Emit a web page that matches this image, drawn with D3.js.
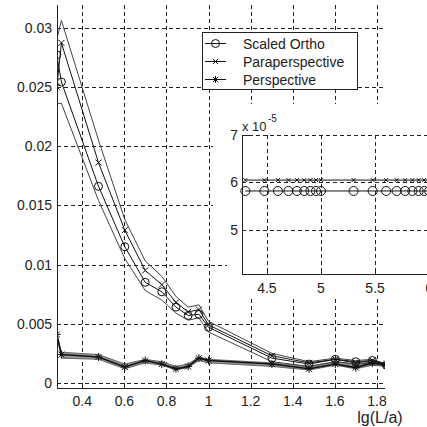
<!DOCTYPE html>
<html>
<head>
<meta charset="utf-8">
<script src="https://cdn.jsdelivr.net/npm/d3@7"></script>
<style>
  body { margin: 0; background: #fff; }
  text { font-family: "Liberation Sans", Arial, sans-serif; fill: #222; }
</style>
</head>
<body>
<div class="canvas"></div>
<script>
// data
const xVals = [0.279, 0.301, 0.477, 0.602, 0.699, 0.778, 0.845, 0.903, 0.954, 1.0, 1.301, 1.477, 1.602, 1.699, 1.778, 1.845];
const orthoMid = [0.0277, 0.0254, 0.0166, 0.0115, 0.0085, 0.0077, 0.0064, 0.0057, 0.0058, 0.0047, 0.0021, 0.0016, 0.0020, 0.0018, 0.0019, 0.0015];
const paraMid = [0.0250, 0.0287, 0.0186, 0.0129, 0.0095, 0.0083, 0.0068, 0.0060, 0.0062, 0.0049, 0.0023, 0.0017, 0.0020, 0.0017, 0.0019, 0.0016];
const bundleHi = [0.0290, 0.0306, 0.0205, 0.0138, 0.0103, 0.0090, 0.0073, 0.0064, 0.0066, 0.0052, 0.0025, 0.0018, 0.0021, 0.0019, 0.0020, 0.0016];
const bundleLo = [0.0236, 0.0236, 0.0154, 0.0105, 0.0078, 0.0070, 0.0059, 0.0053, 0.0055, 0.0043, 0.0018, 0.0014, 0.0018, 0.0016, 0.0017, 0.0014];
const perspMid = [0.0041, 0.0024, 0.0022, 0.00135, 0.0019, 0.0016, 0.0012, 0.0014, 0.0021, 0.0019, 0.0016, 0.0012, 0.0016, 0.0013, 0.0017, 0.0015];
const perspHi = [0.0041, 0.0026, 0.0024, 0.0016, 0.0020, 0.0018, 0.0014, 0.0016, 0.0022, 0.0020, 0.0017, 0.0014, 0.0018, 0.0016, 0.0018, 0.0016];
const perspLo = [0.0041, 0.0021, 0.0020, 0.0012, 0.0017, 0.0015, 0.0011, 0.0013, 0.0019, 0.0017, 0.0014, 0.0011, 0.0015, 0.0012, 0.0015, 0.0014];

const xTicks = [0.4, 0.6, 0.8, 1, 1.2, 1.4, 1.6, 1.8];
const yTicks = [0, 0.005, 0.01, 0.015, 0.02, 0.025, 0.03];
const yTickLabels = ['0', '0.005', '0.01', '0.015', '0.02', '0.025', '0.03'];

// inset (values in units of 1e-5)
const insetX = [4.301, 4.477, 4.602, 4.699, 4.778, 4.845, 4.903, 4.954, 5.0, 5.301, 5.477, 5.602, 5.699, 5.778, 5.845, 5.903, 5.954, 6.0];
const insetOrtho = [5.82, 5.82, 5.82, 5.82, 5.82, 5.82, 5.82, 5.82, 5.82, 5.82, 5.82, 5.82, 5.82, 5.82, 5.82, 5.82, 5.82, 5.82];
const insetPara = [6.05, 6.05, 6.05, 6.05, 6.05, 6.05, 6.05, 6.05, 6.05, 6.05, 6.05, 6.05, 6.05, 6.05, 6.05, 6.05, 6.05, 6.05];
const insetXTicks = [4.5, 5, 5.5, 6];
const insetYTicks = [5, 6, 7];

const legendNames = ['Scaled Ortho', 'Paraperspective', 'Perspective'];
const legendMarkers = ['circle', 'cross', 'star'];

const width = 427, height = 427;
const dash = '4,3';

const svg = d3.select('.canvas')
  .append('svg')
    .attr('width', width)
    .attr('height', height);

// main scales
const x = d3.scaleLinear().domain([0.28, 1.838]).range([57, 385]);
const y = d3.scaleLinear().domain([-0.00042, 0.0319]).range([388, 5]);

// marker shapes as path strings
function markerPath(type, s) {
  if (type === 'circle') {
    return `M${-s},0a${s},${s} 0 1,0 ${2 * s},0a${s},${s} 0 1,0 ${-2 * s},0`;
  }
  const d = s * 0.75;
  if (type === 'cross') {
    return `M${-d},${-d}L${d},${d}M${-d},${d}L${d},${-d}`;
  }
  // star = plus + cross
  return `M${-s},0L${s},0M0,${-s}L0,${s}M${-d},${-d}L${d},${d}M${-d},${d}L${d},${-d}`;
}

// main grid
const grid = svg.append('g')
  .attr('stroke', '#222')
  .attr('stroke-width', 1)
  .attr('stroke-dasharray', dash);

grid.selectAll('line.v')
  .data(xTicks)
  .enter()
  .append('line')
    .attr('x1', d => Math.round(x(d)) + 0.5)
    .attr('x2', d => Math.round(x(d)) + 0.5)
    .attr('y1', y.range()[1])
    .attr('y2', y.range()[0]);

grid.selectAll('line.h')
  .data(yTicks)
  .enter()
  .append('line')
    .attr('x1', x.range()[0])
    .attr('x2', x.range()[1])
    .attr('y1', d => Math.round(y(d)) + 0.5)
    .attr('y2', d => Math.round(y(d)) + 0.5);

// clip for the data
svg.append('clipPath')
  .attr('id', 'plotClip')
  .append('rect')
    .attr('x', x.range()[0])
    .attr('y', 0)
    .attr('width', x.range()[1] - x.range()[0])
    .attr('height', y.range()[0]);

const plot = svg.append('g').attr('clip-path', 'url(#plotClip)');

const line = d3.line()
  .x(d => x(d[0]))
  .y(d => y(d[1]));

const zip = vals => xVals.map((v, i) => [v, vals[i]]);

// perspective band
const band = d3.area()
  .x((d, i) => x(xVals[i]))
  .y0(d => y(d[0]))
  .y1(d => y(d[1]));

plot.append('path')
  .attr('d', band(perspLo.map((v, i) => [v, perspHi[i]])))
  .attr('fill', '#999');

[perspHi, perspLo].forEach(s => {
  plot.append('path')
    .attr('d', line(zip(s)))
    .attr('fill', 'none')
    .attr('stroke', '#666')
    .attr('stroke-width', 1);
});

// high bundle envelope lines
[bundleHi, bundleLo].forEach(s => {
  plot.append('path')
    .attr('d', line(zip(s)))
    .attr('fill', 'none')
    .attr('stroke', '#444')
    .attr('stroke-width', 1);
});

const series = [
  {vals: orthoMid, marker: 'circle', size: 4, w: 1},
  {vals: paraMid, marker: 'cross', size: 4, w: 1},
  {vals: perspMid, marker: 'star', size: 4, w: 1.6}
];

series.forEach(s => {
  plot.append('path')
    .attr('d', line(zip(s.vals)))
    .attr('fill', 'none')
    .attr('stroke', '#111')
    .attr('stroke-width', s.w);

  plot.selectAll(null)
    .data(zip(s.vals))
    .enter()
    .append('path')
      .attr('transform', d => `translate(${x(d[0])},${y(d[1])})`)
      .attr('d', markerPath(s.marker, s.size))
      .attr('fill', 'none')
      .attr('stroke', '#111')
      .attr('stroke-width', 1);
});

// axis lines
svg.append('line')
  .attr('x1', 57.5).attr('x2', 57.5)
  .attr('y1', y.range()[1]).attr('y2', y.range()[0] + 0.5)
  .attr('stroke', '#222');
svg.append('line')
  .attr('x1', 57).attr('x2', x.range()[1])
  .attr('y1', y.range()[0] + 0.5).attr('y2', y.range()[0] + 0.5)
  .attr('stroke', '#222');

// tick marks (inside)
svg.selectAll('line.yt')
  .data(yTicks)
  .enter()
  .append('line')
    .attr('x1', 57).attr('x2', 61)
    .attr('y1', d => Math.round(y(d)) + 0.5)
    .attr('y2', d => Math.round(y(d)) + 0.5)
    .attr('stroke', '#222');
svg.selectAll('line.xt')
  .data(xTicks)
  .enter()
  .append('line')
    .attr('x1', d => Math.round(x(d)) + 0.5)
    .attr('x2', d => Math.round(x(d)) + 0.5)
    .attr('y1', y.range()[0]).attr('y2', y.range()[0] - 4)
    .attr('stroke', '#222');

// tick labels
svg.selectAll('text.yl')
  .data(yTicks)
  .enter()
  .append('text')
    .attr('x', 52)
    .attr('y', d => y(d) + 5)
    .attr('text-anchor', 'end')
    .style('font-size', '14px')
    .text((d, i) => yTickLabels[i]);

svg.selectAll('text.xl')
  .data(xTicks)
  .enter()
  .append('text')
    .attr('x', d => x(d))
    .attr('y', 406)
    .attr('text-anchor', 'middle')
    .style('font-size', '14px')
    .text(d => d);

svg.append('text')
  .attr('x', 380)
  .attr('y', 423)
  .attr('text-anchor', 'middle')
  .style('font-size', '16px')
  .text('lg(L/a)');

// white area under the inset
svg.append('path')
  .attr('d', 'M213,104L427,104L427,297L227,297L227,245L213,245Z')
  .attr('fill', '#fff');

// inset axes
const ix = d3.scaleLinear().domain([4.27, 6.1]).range([242, 440]);
const iy = d3.scaleLinear().domain([4.07, 7]).range([274, 135]);

const inset = svg.append('g');

inset.selectAll('line.ig')
  .data(insetXTicks)
  .enter()
  .append('line')
    .attr('x1', d => Math.round(ix(d)) + 0.5)
    .attr('x2', d => Math.round(ix(d)) + 0.5)
    .attr('y1', iy.range()[1]).attr('y2', iy.range()[0])
    .attr('stroke', '#222')
    .attr('stroke-dasharray', dash);

inset.selectAll('line.ih')
  .data(insetYTicks)
  .enter()
  .append('line')
    .attr('x1', ix.range()[0]).attr('x2', ix.range()[1])
    .attr('y1', d => Math.round(iy(d)) + 0.5)
    .attr('y2', d => Math.round(iy(d)) + 0.5)
    .attr('stroke', '#222')
    .attr('stroke-dasharray', dash);

const iline = d3.line()
  .x(d => ix(d[0]))
  .y(d => iy(d[1]));

const insetSeries = [
  {vals: insetOrtho, marker: 'circle'},
  {vals: insetPara, marker: 'cross'}
];

insetSeries.forEach(s => {
  const pts = insetX.map((v, i) => [v, s.vals[i]]);
  inset.append('path')
    .attr('d', iline(pts))
    .attr('fill', 'none')
    .attr('stroke', '#111');
  inset.selectAll(null)
    .data(pts)
    .enter()
    .append('path')
      .attr('transform', d => `translate(${ix(d[0])},${iy(d[1])})`)
      .attr('d', markerPath(s.marker, s.marker === 'circle' ? 4.5 : 2.5))
      .attr('fill', 'none')
      .attr('stroke', '#111');
});

// inset axis lines
inset.append('line')
  .attr('x1', 242.5).attr('x2', 242.5)
  .attr('y1', 135).attr('y2', 274.5)
  .attr('stroke', '#222');
inset.append('line')
  .attr('x1', 242).attr('x2', 440)
  .attr('y1', 274.5).attr('y2', 274.5)
  .attr('stroke', '#222');
inset.append('line')
  .attr('x1', 242).attr('x2', 250)
  .attr('y1', 135.5).attr('y2', 135.5)
  .attr('stroke', '#222');

inset.selectAll('line.iyt')
  .data(insetYTicks)
  .enter()
  .append('line')
    .attr('x1', 242).attr('x2', 246)
    .attr('y1', d => Math.round(iy(d)) + 0.5)
    .attr('y2', d => Math.round(iy(d)) + 0.5)
    .attr('stroke', '#222');

inset.selectAll('line.ixt')
  .data(insetXTicks)
  .enter()
  .append('line')
    .attr('x1', d => Math.round(ix(d)) + 0.5)
    .attr('x2', d => Math.round(ix(d)) + 0.5)
    .attr('y1', 274).attr('y2', 270)
    .attr('stroke', '#222');

inset.selectAll('text.iyl')
  .data(insetYTicks)
  .enter()
  .append('text')
    .attr('x', 238)
    .attr('y', d => iy(d) + 5)
    .attr('text-anchor', 'end')
    .style('font-size', '14px')
    .text(d => d);

inset.selectAll('text.ixl')
  .data(insetXTicks)
  .enter()
  .append('text')
    .attr('x', d => ix(d))
    .attr('y', 293)
    .attr('text-anchor', 'middle')
    .style('font-size', '14px')
    .text(d => d);

inset.append('text')
  .attr('x', 242)
  .attr('y', 131)
  .style('font-size', '13px')
  .text('x 10');
inset.append('text')
  .attr('x', 268)
  .attr('y', 122)
  .style('font-size', '10px')
  .text('-5');

// legend
const legend = svg.append('g').attr('transform', 'translate(202, 32)');

legend.append('rect')
  .attr('x', 0.5).attr('y', 0.5)
  .attr('width', 155).attr('height', 57)
  .attr('fill', '#fff')
  .attr('stroke', '#222');

legendNames.forEach((name, i) => {
  const ly = 11.5 + i * 18;
  legend.append('line')
    .attr('x1', 3).attr('x2', 24)
    .attr('y1', ly).attr('y2', ly)
    .attr('stroke', '#111');
  legend.append('path')
    .attr('transform', `translate(13.5,${ly})`)
    .attr('d', markerPath(legendMarkers[i], legendMarkers[i] === 'circle' ? 4 : 3.5))
    .attr('fill', 'none')
    .attr('stroke', '#111')
    .attr('stroke-width', 1);
  legend.append('text')
    .attr('x', 41)
    .attr('y', ly + 5)
    .style('font-size', '14px')
    .text(name);
});
</script>
</body>
</html>
